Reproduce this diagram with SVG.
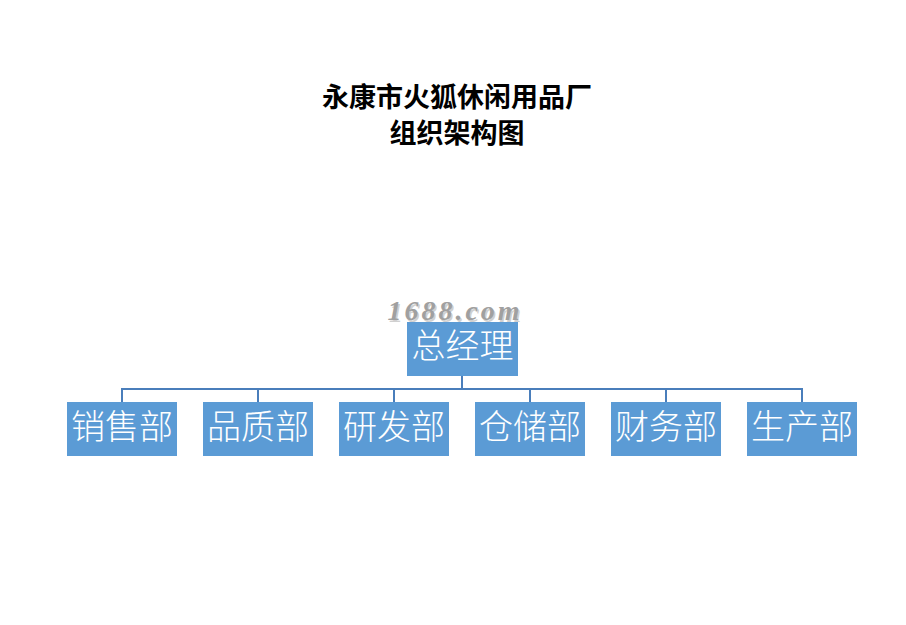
<svg xmlns="http://www.w3.org/2000/svg" width="906" height="625" viewBox="0 0 906 625">
<style>
.title{font-family:"Liberation Sans","Noto Sans CJK SC",sans-serif;font-weight:bold;font-size:27px;fill:#000;text-anchor:middle}
.box{fill:#5b9bd5}
.lbl{font-family:"Noto Sans CJK SC",sans-serif;font-weight:300;font-size:34px;fill:#fff;text-anchor:middle}
.conn{stroke:#4a7ebb;stroke-width:2;fill:none}
.wm{font-family:"Liberation Serif",serif;font-style:italic;font-weight:bold;font-size:28px;letter-spacing:3px;text-anchor:middle}
</style>
<rect width="906" height="625" fill="#fff"/>
<text class="title" x="457" y="107">永康市火狐休闲用品厂</text>
<text class="title" x="457" y="143">组织架构图</text>
<g id="connectors">
<path class="conn" d="M462 376V389M122 389H802M122 388V402M258 388V402M394 388V402M530 388V402M666 388V402M802 388V402"/>
</g>
<g id="watermark">
<text class="wm" x="455" y="320" fill="#d0d0d0" transform="translate(1.5,1.5)">1688.com</text>
<text class="wm" x="455" y="320" fill="#a0a0a0">1688.com</text>
</g>
<g id="n0"><rect class="box" x="407" y="322" width="111" height="54"/><text class="lbl" x="462.5" y="358">总经理</text></g>
<g id="n1"><rect class="box" x="67" y="402" width="110" height="54"/><text class="lbl" x="122" y="439">销售部</text></g>
<g id="n2"><rect class="box" x="203" y="402" width="110" height="54"/><text class="lbl" x="258" y="439">品质部</text></g>
<g id="n3"><rect class="box" x="339" y="402" width="110" height="54"/><text class="lbl" x="394" y="439">研发部</text></g>
<g id="n4"><rect class="box" x="475" y="402" width="110" height="54"/><text class="lbl" x="530" y="439">仓储部</text></g>
<g id="n5"><rect class="box" x="611" y="402" width="110" height="54"/><text class="lbl" x="666" y="439">财务部</text></g>
<g id="n6"><rect class="box" x="747" y="402" width="110" height="54"/><text class="lbl" x="802" y="439">生产部</text></g>
</svg>
